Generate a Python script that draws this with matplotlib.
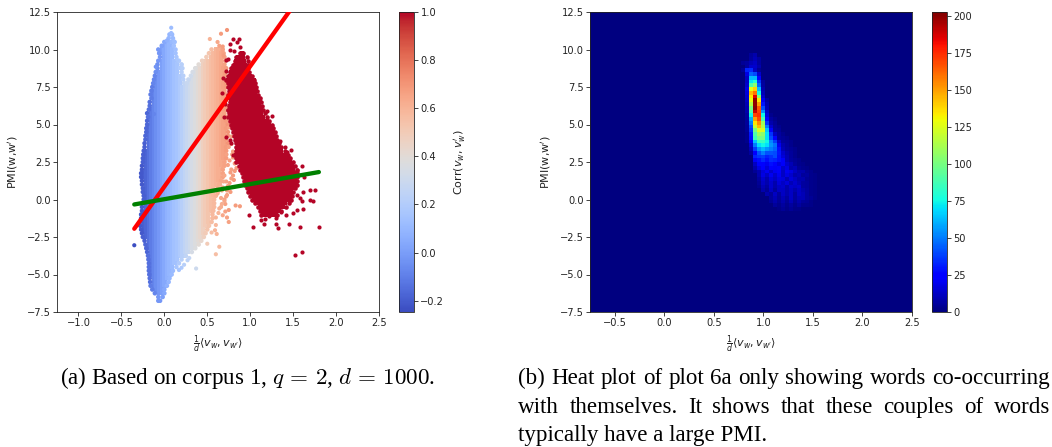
import numpy as np
import matplotlib
matplotlib.use("Agg")
import matplotlib.pyplot as plt

plt.rcParams['font.family'] = 'DejaVu Sans'
plt.rcParams['mathtext.fontset'] = 'dejavusans'

W, H = 1052, 447

# colour of the cloud read along x
col_x = [-0.30, -0.27, -0.24, -0.21, -0.18, -0.15, -0.12, -0.09, -0.06, -0.03,
         0.00, 0.03, 0.06, 0.09, 0.12, 0.15, 0.18, 0.21, 0.24, 0.27,
         0.30, 0.33, 0.36, 0.39, 0.42, 0.45, 0.48, 0.51, 0.54, 0.57,
         0.60, 0.63, 0.66, 0.69, 0.72, 0.75]
col_corr = [-0.23, -0.21, -0.19, -0.17, -0.14, -0.11, -0.08, -0.05, -0.02, 0.01,
            0.04, 0.07, 0.09, 0.11, 0.14, 0.16, 0.19, 0.22, 0.25, 0.28,
            0.31, 0.34, 0.37, 0.40, 0.43, 0.47, 0.50, 0.53, 0.56, 0.58,
            0.60, 0.62, 0.64, 0.66, 0.68, 0.70]

# main cloud, one (pmi, left, right) per stretch
main_pmi = [11.0, 10.75, 10.5, 10.25, 10.0, 9.75, 9.5, 9.25, 9.0, 8.75, 8.5, 8.25, 8.0, 7.75,
            10.0, 9.75, 9.5, 9.25, 9.0, 8.75, 8.5, 8.25, 8.0, 7.75,
            7.5, 7.25, 7.0, 6.75, 6.5, 6.25, 6.0, 5.75, 5.5, 5.25, 5.0, 4.75, 4.5, 4.25, 4.0, 3.75,
            3.5, 3.25, 3.0, 2.75, 2.5, 2.25, 2.0, 1.75, 1.5, 1.25, 1.0, 0.75, 0.5, 0.25, 0.0, -0.25,
            -0.5, -0.75, -1.0, -1.25, -1.5, -1.75, -2.0, -2.25, -2.5, -2.75, -3.0, -3.25, -3.5, -3.75,
            -4.0, -4.25, -4.5, -4.75, -5.0, -5.25, -5.5, -5.75, -6.0, -6.25, -6.5, -6.75]
main_left = [0.06, 0.05, 0.00, -0.03, -0.07, -0.06, -0.05, -0.07, -0.08, -0.08, -0.10, -0.11, -0.12, -0.13,
             0.55, 0.52, 0.49, 0.44, 0.40, 0.36, 0.33, 0.31, 0.28, 0.26,
             -0.14, -0.15, -0.16, -0.15, -0.17, -0.17, -0.18, -0.20, -0.19, -0.20, -0.20, -0.21, -0.21, -0.22, -0.22, -0.23,
             -0.23, -0.24, -0.245, -0.25, -0.25, -0.26, -0.26, -0.27, -0.27, -0.26, -0.26, -0.25, -0.25, -0.24, -0.24, -0.25,
             -0.26, -0.26, -0.27, -0.27, -0.28, -0.28, -0.27, -0.26, -0.25, -0.23, -0.22, -0.21, -0.20, -0.19,
             -0.185, -0.18, -0.18, -0.18, -0.175, -0.17, -0.165, -0.16, -0.14, -0.11, -0.07, -0.07]
main_right = [0.09, 0.10, 0.12, 0.11, 0.13, 0.13, 0.14, 0.17, 0.20, 0.21, 0.20, 0.22, 0.22, 0.23,
              0.68, 0.69, 0.70, 0.71, 0.70, 0.72, 0.70, 0.70, 0.70, 0.72,
              0.72, 0.70, 0.72, 0.72, 0.70, 0.72, 0.72, 0.70, 0.72, 0.72, 0.74, 0.72, 0.74, 0.74, 0.72, 0.74,
              0.72, 0.72, 0.72, 0.72, 0.70, 0.70, 0.68, 0.68, 0.68, 0.66, 0.64, 0.62, 0.62, 0.60, 0.58, 0.58,
              0.58, 0.57, 0.56, 0.56, 0.55, 0.52, 0.50, 0.48, 0.46, 0.43, 0.40, 0.36, 0.32, 0.25,
              0.20, 0.17, 0.14, 0.10, 0.085, 0.06, 0.05, 0.03, 0.00, 0.00, -0.02, -0.05]

# stray points of the main cloud
stray_x = [-0.35, -0.10, -0.12, 0.08, 0.08, 0.03, 0.11, 0.15, 0.20, 0.66, 0.73, 0.53, 0.62, 0.64, 0.68,
           0.50, 0.64, 0.60, 0.37, 0.61, 0.59, 0.55, 0.29, 0.27, 0.20, 0.17, 0.23,
           0.75, 0.83, 0.88, 0.73, 0.75, 0.68, 0.71, 0.64, 0.60, 0.66, 0.62, 0.70, 0.73, 0.77,
           0.72, 0.76, 0.80, 0.78, 0.82, 0.80, 0.78, 0.77, 0.76, 0.75, 0.80, 0.74, 0.78, 0.70, 0.68, 0.73,
           0.76, 0.72, 0.78, 0.82, 0.75, 0.76, 0.71, 0.69, 0.75, 0.67, 0.70, 0.66, 0.63, 0.60,
           0.84, 0.81, 0.74, 0.77, 0.69, 0.72, 0.65, 0.79, 0.71, 0.67]
stray_y = [-3.05, 8.85, 5.7, 11.45, 11.1, 10.6, 10.55, 9.3, 9.0, 11.05, 11.3, 10.7, 10.5, 10.25, 10.2,
           -2.95, -3.15, -3.65, -4.6, -2.3, -2.05, -2.2, -3.9, -4.05, -4.55, -4.7, -4.35,
           -0.7, -0.4, -0.45, -1.2, -1.5, -1.05, -0.3, -0.6, -1.2, 0.1, 0.4, 0.0, 0.6, 0.5,
           1.2, 1.1, 1.6, 2.0, 2.4, 3.2, 4.2, 5.2, 6.0, 3.5, 2.8, 2.3, 1.4, 1.6, 0.8, 0.3,
           2.6, 3.0, 3.7, 1.9, 4.8, 5.6, 8.4, 9.6, 7.8, 0.6, -0.1, -0.5, -0.9, -1.7,
           2.1, 1.3, 0.9, 1.8, 1.2, 0.2, 1.0, 3.0, -0.8, -0.3]
stray_c = [-0.24, -0.03, -0.08, 0.12, 0.12, 0.07, 0.13, 0.17, 0.22, 0.68, 0.70, 0.60, 0.64, 0.66, 0.68,
           0.50, 0.58, 0.56, 0.30, 0.60, 0.60, 0.56, 0.26, 0.24, 0.18, 0.16, 0.22,
           0.68, 0.68, 0.68, 0.66, 0.66, 0.64, 0.66, 0.62, 0.60, 0.64, 0.62, 0.66, 0.66, 0.68,
           0.66, 0.68, 0.68, 0.66, 0.68, 0.68, 0.66, 0.66, 0.68, 0.66, 0.68, 0.66, 0.66, 0.64, 0.64, 0.66,
           0.66, 0.66, 0.68, 0.68, 0.66, 0.66, 0.68, 0.68, 0.68, 0.62, 0.64, 0.62, 0.60, 0.58,
           0.68, 0.68, 0.66, 0.68, 0.64, 0.66, 0.62, 0.68, 0.66, 0.62]

# red cloud, corr = 1
red_pmi = [9.75, 9.5, 9.25, 9.0, 8.75, 8.5, 8.25, 8.0, 7.75, 7.5, 7.25, 7.0, 6.75, 6.5, 6.25, 6.0, 5.75, 5.5,
           5.25, 5.0, 4.75, 4.5, 4.25, 4.0, 3.75, 3.5, 3.25, 3.0, 2.75, 2.5, 2.25, 2.0, 1.75, 1.5, 1.25, 1.0,
           0.75, 0.5, 0.25, 0.0, -0.25, -0.5, -0.75, -1.0]
red_left = [0.88, 0.84, 0.82, 0.80, 0.78, 0.76, 0.74, 0.72, 0.74, 0.74, 0.75, 0.74, 0.76, 0.76, 0.75, 0.74, 0.75, 0.74,
            0.76, 0.78, 0.79, 0.80, 0.81, 0.82, 0.83, 0.84, 0.83, 0.82, 0.84, 0.84, 0.87, 0.88, 0.90, 0.92, 0.93, 0.94,
            0.96, 0.98, 1.00, 1.02, 1.06, 1.09, 1.11, 1.13]
red_right = [0.92, 0.96, 0.97, 0.98, 0.98, 0.99, 1.02, 1.05, 1.06, 1.07, 1.08, 1.09, 1.11, 1.13, 1.14, 1.15, 1.17, 1.19,
             1.22, 1.25, 1.27, 1.29, 1.30, 1.31, 1.34, 1.36, 1.40, 1.44, 1.46, 1.50, 1.52, 1.54, 1.54, 1.54, 1.55, 1.54,
             1.52, 1.50, 1.49, 1.48, 1.45, 1.42, 1.36, 1.31]
red_stray_x = [1.52, 1.60, 1.80, 1.58, 1.45, 1.32, 1.30, 1.03, 0.99, 1.16, 1.17, 1.70, 1.73, 1.70, 1.75, 1.62, 1.60, 1.62,
               1.63, 1.60, 1.55, 1.55, 1.40, 1.47, 1.43, 1.30, 1.35, 1.25, 1.20, 0.76, 0.80, 0.85, 0.87, 0.88, 0.77,
               0.81, 0.72, 0.74, 0.72, 0.68, 0.67, 0.71, 0.74, 0.70, 0.72, 0.76, 0.78, 0.80, 1.30, 1.42, 1.25, 1.50,
               1.55, 1.58, 1.12, 1.22, 1.36]
red_stray_y = [-3.7, -3.5, -1.85, -1.8, -1.65, -1.9, -1.65, -1.85, -1.0, -1.6, -1.3, -0.05, -0.1, 0.65, 0.65, -0.65, -0.1, 0.5,
               1.5, 2.25, 2.0, 0.3, 3.5, 3.3, 3.2, 4.0, 3.9, 5.6, 5.9, 10.4, 10.7, 10.5, 10.7, 10.2, 10.0,
               9.9, 9.3, 9.4, 8.6, 8.1, 7.1, 6.4, 6.0, 5.5, 4.2, 4.0, 3.8, 3.0, -1.2, -1.05, -0.9, -0.9,
               -0.7, 0.1, -1.35, -1.1, -0.8]

# fitted lines, ends
red_line_x = [-0.35, 1.80]
red_line_y = [-1.95, 15.3]
green_line_x = [-0.35, 1.80]
green_line_y = [-0.33, 1.83]

# heat plot: cell size, first column and top row, then the counts per row
heat_x0, heat_dx = 0.693, 0.0406
heat_ytop, heat_dy = 9.75, 0.25
heat_starts = [4, 4, 2, 3, 2, 3, 3, 3, 3, 3, 3, 3, 3, 3, 3, 3, 3, 3, 3, 3, 3, 3, 3, 3, 4, 4, 4,
               5, 5, 5, 5, 5, 6, 6, 6, 6, 7, 8, 9, 9, 10, 11]
heat_rows = [
    [5, 8],
    [6, 10, 6],
    [4, 6, 10, 12, 6],
    [6, 14, 14, 8],
    [4, 32, 34, 12, 4],
    [18, 45, 40, 14],
    [12, 62, 62, 24],
    [12, 72, 80, 36, 5],
    [14, 90, 105, 45, 6],
    [18, 128, 140, 62, 8],
    [16, 145, 160, 75, 10],
    [14, 135, 185, 105, 14],
    [12, 128, 200, 135, 20, 6],
    [10, 115, 200, 150, 30, 8],
    [8, 100, 202, 165, 40, 10],
    [8, 90, 190, 170, 55, 12],
    [6, 75, 170, 175, 75, 16, 3],
    [5, 60, 150, 170, 90, 24, 6, 3],
    [5, 50, 135, 155, 110, 35, 8, 4],
    [4, 40, 120, 145, 115, 50, 14, 5, 3],
    [4, 35, 100, 125, 125, 65, 22, 6, 4],
    [3, 30, 90, 110, 105, 70, 35, 12, 6, 3],
    [3, 28, 85, 100, 100, 70, 40, 24, 6, 4, 3],
    [3, 22, 65, 85, 85, 75, 52, 38, 14, 5, 4, 3],
    [15, 50, 70, 75, 70, 55, 48, 20, 8, 5, 3],
    [10, 38, 55, 62, 55, 50, 45, 28, 10, 6, 4, 3],
    [6, 24, 42, 50, 42, 42, 40, 30, 14, 8, 5, 3],
    [32, 36, 38, 32, 35, 40, 28, 16, 10, 5, 3],
    [22, 28, 34, 28, 34, 32, 28, 22, 10, 6, 4, 3],
    [12, 26, 26, 20, 28, 26, 18, 22, 14, 10, 5, 3, 2],
    [8, 18, 24, 16, 25, 22, 26, 14, 18, 8, 10, 4, 3, 2],
    [4, 8, 16, 20, 14, 20, 22, 12, 20, 18, 12, 8, 8, 4, 3],
    [8, 18, 12, 20, 14, 20, 12, 18, 14, 8, 10, 5, 6, 3, 2],
    [6, 14, 8, 16, 12, 18, 16, 10, 16, 12, 8, 8, 4, 3, 2],
    [4, 12, 8, 14, 8, 16, 12, 16, 10, 14, 10, 6, 5, 3, 2],
    [3, 10, 6, 14, 8, 12, 14, 8, 14, 12, 14, 6, 5, 3, 2],
    [8, 4, 12, 6, 12, 12, 8, 12, 8, 12, 8, 6, 3, 2],
    [8, 5, 12, 6, 12, 8, 12, 6, 12, 10, 6, 3, 2],
    [6, 10, 5, 10, 6, 12, 6, 10, 10, 6, 4, 2],
    [4, 8, 4, 8, 4, 10, 4, 8, 5, 4, 2],
    [5, 3, 6, 3, 6, 3, 6, 3, 3, 2],
    [2, 4, 2, 4, 2, 2],
]

x_ticks_a = [-1.0, -0.5, 0.0, 0.5, 1.0, 1.5, 2.0, 2.5]
x_ticks_b = [-0.5, 0.0, 0.5, 1.0, 1.5, 2.0, 2.5]
y_ticks = [-7.5, -5.0, -2.5, 0.0, 2.5, 5.0, 7.5, 10.0, 12.5]
corr_ticks = [-0.2, 0.0, 0.2, 0.4, 0.6, 0.8, 1.0]
heat_ticks = [0, 25, 50, 75, 100, 125, 150, 175, 200]

caption_a = r'(a) Based on corpus 1, $q\,=\,2$, $d\,=\,1000$.'
caption_b = ['(b) Heat plot of plot 6a only showing words co-occurring',
             'with themselves. It shows that these couples of words',
             'typically have a large PMI.']


def px_axes(left, top, right, bottom):
    return fig.add_axes([left / W, 1 - bottom / H, (right - left) / W, (bottom - top) / H])


def style(ax):
    ax.tick_params(labelsize=7.1, length=2.6, width=0.6, pad=2, colors='#222222')
    for s in ax.spines.values():
        s.set_linewidth(0.6)
        s.set_color('#222222')


def justified(line, x0, x1, base, size):
    # spread the words of a caption line over x0..x1 like the typeset text
    words = line.split()
    r = fig.canvas.get_renderer()
    items = [fig.text(0, 1 - base / H, w, family='Liberation Serif', fontsize=size) for w in words]
    widths = [t.get_window_extent(r).width for t in items]
    gap = (x1 - x0 - sum(widths)) / (len(words) - 1)
    x = x0
    for t, w in zip(items, widths):
        t.set_x(x / W)
        x += w + gap


fig = plt.figure(figsize=(W / 100, H / 100), dpi=100)

# plot a
ax1 = px_axes(57, 12, 379, 312)
grid_x = np.array(col_x)
grid_c = np.array(col_corr)
# squares only inside each row so nothing white shows, round dots on the edges
fill_x, fill_y, fill_c = [], [], []
pts_x, pts_y, pts_c = [], [], []
for p, l, r in zip(main_pmi, main_left, main_right):
    keep = (grid_x >= l + 0.025) & (grid_x <= r - 0.025)
    fill_x += list(grid_x[keep])
    fill_y += [p] * keep.sum()
    fill_c += list(grid_c[keep])
    pts_x += [l, r]
    pts_y += [p, p]
    pts_c += [grid_c[np.abs(grid_x - l).argmin()], grid_c[np.abs(grid_x - r).argmin()]]
sc = ax1.scatter(fill_x, fill_y, c=fill_c, s=10, marker='s', cmap='coolwarm', vmin=-0.247, vmax=1.0, linewidths=0, zorder=2)
ax1.scatter(pts_x, pts_y, c=pts_c, s=11, cmap='coolwarm', vmin=-0.247, vmax=1.0, linewidths=0, zorder=2)
ax1.scatter(stray_x, stray_y, c=stray_c, s=9, cmap='coolwarm', vmin=-0.247, vmax=1.0, linewidths=0, zorder=2)
red_color = plt.get_cmap('coolwarm')(1.0)
red_step = 0.03
for p, l, r in zip(red_pmi, red_left, red_right):
    xs = np.arange(l + 0.02, r - 0.01, red_step)
    ax1.scatter(xs, [p] * len(xs), color=red_color, s=10, marker='s', linewidths=0, zorder=3)
    ax1.scatter([l, r], [p, p], color=red_color, s=11, linewidths=0, zorder=3)
ax1.scatter(red_stray_x, red_stray_y, color=red_color, s=9, linewidths=0, zorder=3)
ax1.plot(red_line_x, red_line_y, color='red', lw=3.1, solid_capstyle='round', zorder=4)
ax1.plot(green_line_x, green_line_y, color='green', lw=3.1, solid_capstyle='round', zorder=5)
ax1.set_xlim(-1.25, 2.5)
ax1.set_ylim(-7.5, 12.5)
ax1.set_xticks(x_ticks_a)
ax1.set_yticks(y_ticks)
style(ax1)
ax1.set_xlabel(r'$\frac{1}{d}\langle v_w, v_{w^{\prime}}\rangle$', fontsize=8, labelpad=4, color='#222222')
ax1.set_ylabel(r'PMI(w,w$^{\prime}$)', fontsize=8, labelpad=5, color='#222222')

cax1 = px_axes(399, 12, 414, 312)
cb1 = fig.colorbar(sc, cax=cax1, ticks=corr_ticks)
style(cax1)
cb1.outline.set_linewidth(0.6)
cb1.set_label(r"Corr$(v_w, v^{\prime}_w)$", fontsize=8, labelpad=5.5, color='#222222')

# plot b
ax2 = px_axes(590, 12, 912, 312)
n_cols = max(s + len(r) for s, r in zip(heat_starts, heat_rows))
heat = np.zeros((len(heat_rows), n_cols))
for j, (s, r) in enumerate(zip(heat_starts, heat_rows)):
    heat[j, s:s + len(r)] = r
x_edges = heat_x0 + heat_dx * np.arange(n_cols + 1)
y_edges = heat_ytop - heat_dy * np.arange(len(heat_rows) + 1)
ax2.set_facecolor(plt.get_cmap('jet')(0.0))
mesh = ax2.pcolormesh(x_edges, y_edges, heat, cmap='jet', vmin=0, vmax=203)
ax2.set_xlim(-0.75, 2.5)
ax2.set_ylim(-7.5, 12.5)
ax2.set_xticks(x_ticks_b)
ax2.set_yticks(y_ticks)
style(ax2)
ax2.set_xlabel(r'$\frac{1}{d}\langle v_w, v_{w^{\prime}}\rangle$', fontsize=8, labelpad=4, color='#222222')
ax2.set_ylabel(r'PMI(w,w$^{\prime}$)', fontsize=8, labelpad=5, color='#222222')

cax2 = px_axes(932, 12, 947, 312)
cb2 = fig.colorbar(mesh, cax=cax2, ticks=heat_ticks)
style(cax2)
cb2.outline.set_linewidth(0.6)

# captions
fig.text(60 / W, 1 - 384 / H, caption_a, family='Liberation Serif', fontsize=16.6, math_fontfamily='cm')
justified(caption_b[0], 518, 1050, 384, 16.6)
justified(caption_b[1], 518, 1050, 413, 16.6)
fig.text(518 / W, 1 - 441 / H, caption_b[2], family='Liberation Serif', fontsize=16.6)

fig.savefig('out.png', dpi=100)
